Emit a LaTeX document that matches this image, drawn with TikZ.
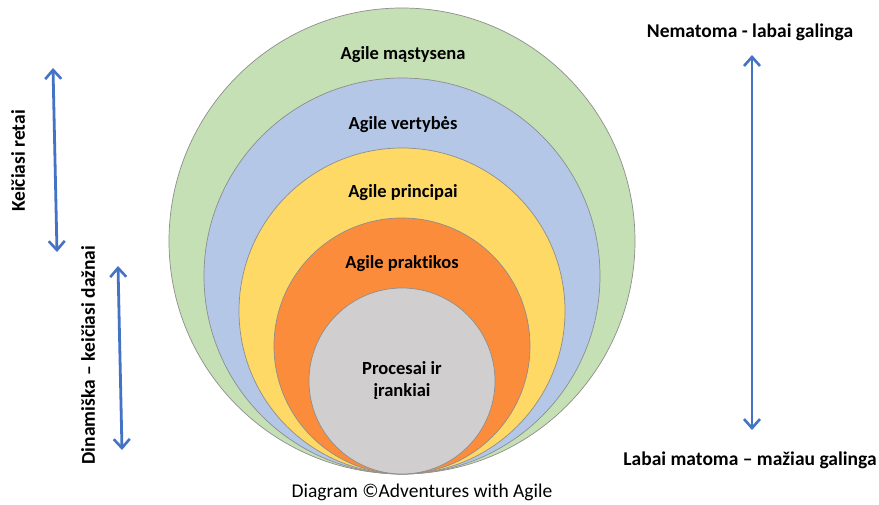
\documentclass[tikz,border=0pt]{standalone}
\usepackage{fontspec}
\setmainfont[Ligatures={NoCommon}]{Carlito}
\usetikzlibrary{arrows.meta}
\definecolor{ringgreen}{HTML}{C5E0B4}
\definecolor{ringblue}{HTML}{B4C7E7}
\definecolor{ringyellow}{HTML}{FFD966}
\definecolor{ringorange}{HTML}{FB8C3C}
\definecolor{ringgray}{HTML}{D0CECE}
\definecolor{arrowblue}{HTML}{4472C4}
\definecolor{ringedge}{HTML}{8E8E8E}
\begin{document}
\begin{tikzpicture}[x=1pt,y=-1pt,
  ring/.style={circle,draw=ringedge,line width=0.7pt,inner sep=0pt},
  ringlabel/.style={font=\fontsize{18.5}{22}\selectfont\bfseries,align=center},
  sidelabel/.style={font=\fontsize{19.5}{23}\selectfont\bfseries},
  twoway/.style={draw=arrowblue,line width=2.8pt,
    {Straight Barb[length=9pt,width=16pt,line width=2.6pt]}-{Straight Barb[length=9pt,width=16pt,line width=2.6pt]}}]
\useasboundingbox (0,0) rectangle (879,505);
\fill[white] (0,0) rectangle (879,505);
% nested rings, all touching at the bottom point
\node[ring,fill=ringgreen,minimum size=466pt] (mindset) at (402,241) {};
\node[ring,fill=ringblue,minimum size=396pt] (values) at (402,276) {};
\node[ring,fill=ringyellow,minimum size=326pt] (principles) at (402,311) {};
\node[ring,fill=ringorange,minimum size=256pt] (practices) at (402,346) {};
\node[ring,fill=ringgray,minimum size=186pt] (tools) at (402,381) {};
% ring labels
\node[ringlabel] (tmindset) at (403,55) {Agile mąstysena};
\node[ringlabel] (tvalues) at (403,125) {Agile vertybės};
\node[ringlabel] (tprinciples) at (403,193) {Agile principai};
\node[ringlabel] (tpractices) at (402,264) {Agile praktikos};
\node[ringlabel] (ttools) at (402,381) {Procesai ir\\įrankiai};
% left side: rate of change
\coordinate (rareTop) at (53,68);
\coordinate (rareBot) at (57,252);
\coordinate (oftenTop) at (118,266);
\coordinate (oftenBot) at (122,450);
\draw[twoway] (rareTop) -- (rareBot);
\draw[twoway] (oftenTop) -- (oftenBot);
\node[sidelabel,rotate=90] (trare) at (18,161) {Keičiasi retai};
\node[sidelabel,rotate=90] (toften) at (88,355) {Dinamiška – keičiasi dažnai};
% right side: visibility vs. power
\node[sidelabel] (tinvisible) at (750,32) {Nematoma - labai galinga};
\node[sidelabel] (tvisible) at (750,460) {Labai matoma – mažiau galinga};
\coordinate (powTop) at (752,55);
\coordinate (powBot) at (752,430);
\draw[twoway] (powTop) -- (powBot);
% credit line
\node[font=\fontsize{19.5}{23}\selectfont] (credit) at (422,492) {Diagram ©Adventures with Agile};
\end{tikzpicture}
\end{document}
